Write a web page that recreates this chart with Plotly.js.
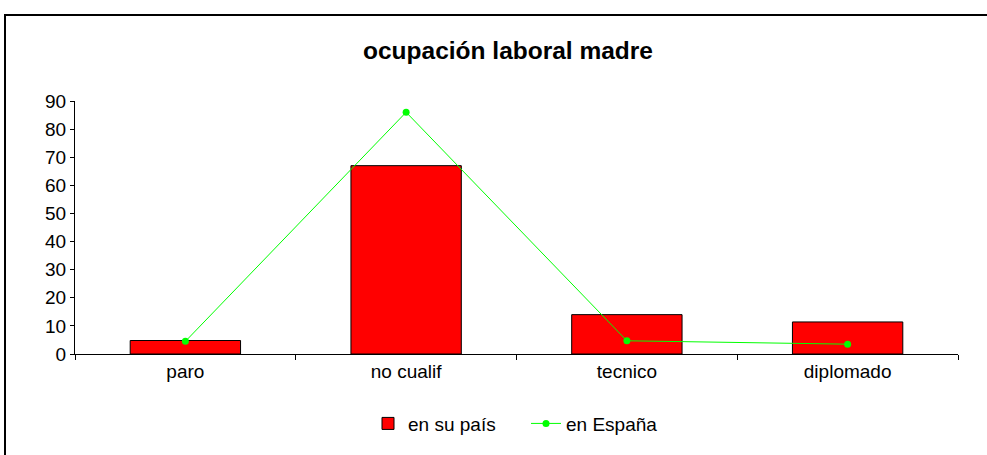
<!DOCTYPE html>
<html>
<head>
<meta charset="utf-8">
<script src="https://cdn.plot.ly/plotly-3.0.1.min.js"></script>
<style>html,body{margin:0;padding:0;background:#fff;}#chart{width:987px;height:455px;}</style>
</head>
<body>
<div id="chart"></div>
<script>
const categories = ["paro", "no cualif", "tecnico", "diplomado"];
const enSuPais = [4.8, 67, 14, 11.4];
const enEspana = [4.5, 86, 4.7, 3.5];
const yTicks = [0, 10, 20, 30, 40, 50, 60, 70, 80, 90];

const L = 75, R = 958, T = 101, B = 356.7, W = 987, H = 455;
const px = x => (x - L) / (R - L);
const py = y => (B - y) / (B - T);

const font = "Arial, 'Liberation Sans', sans-serif";

const traces = [
  {
    type: "bar", name: "en su país", x: categories, y: enSuPais,
    marker: {color: "#ff0000", line: {color: "#000000", width: 1}},
    width: 0.5
  },
  {
    type: "scatter", mode: "lines+markers", name: "en España", x: categories, y: enEspana,
    line: {color: "#00ff00", width: 1},
    marker: {color: "#00ff00", size: 7}
  }
];

const layout = {
  width: W, height: H,
  margin: {l: L, r: W - R, t: T, b: H - B},
  paper_bgcolor: "#ffffff", plot_bgcolor: "#ffffff",
  font: {family: font, size: 19, color: "#000000"},
  title: {text: "<b>ocupación laboral madre</b>", font: {family: font, size: 24.5, color: "#000"},
          x: px(508), xref: "paper", xanchor: "center", y: 1 - 50 / H, yref: "container", yanchor: "middle"},
  showlegend: true,
  legend: {orientation: "h", x: px(368), xanchor: "left", y: py(427), yanchor: "middle",
           font: {family: font, size: 19}, entrywidth: 113, entrywidthmode: "pixels"},
  xaxis: {
    type: "category", showgrid: false, zeroline: false,
    showline: true, linecolor: "#000", linewidth: 1,
    ticks: "outside", ticklen: 5, tickcolor: "#000", tickson: "boundaries",
    tickfont: {family: font, size: 19}, fixedrange: true
  },
  yaxis: {
    range: [0, 90], tickvals: yTicks, showgrid: false, zeroline: false,
    showline: true, linecolor: "#000", linewidth: 1,
    ticks: "outside", ticklen: 4, tickcolor: "#000",
    tickfont: {family: font, size: 19}, fixedrange: true
  },
  bargap: 0.5,
  shapes: [
    {type: "rect", xref: "paper", yref: "paper", x0: px(5), x1: px(1010), y0: py(14), y1: py(480),
     line: {color: "#000", width: 2}, fillcolor: "rgba(0,0,0,0)", layer: "above"}
  ]
};

Plotly.newPlot("chart", traces, layout, {displayModeBar: false, staticPlot: true});
</script>
</body>
</html>
